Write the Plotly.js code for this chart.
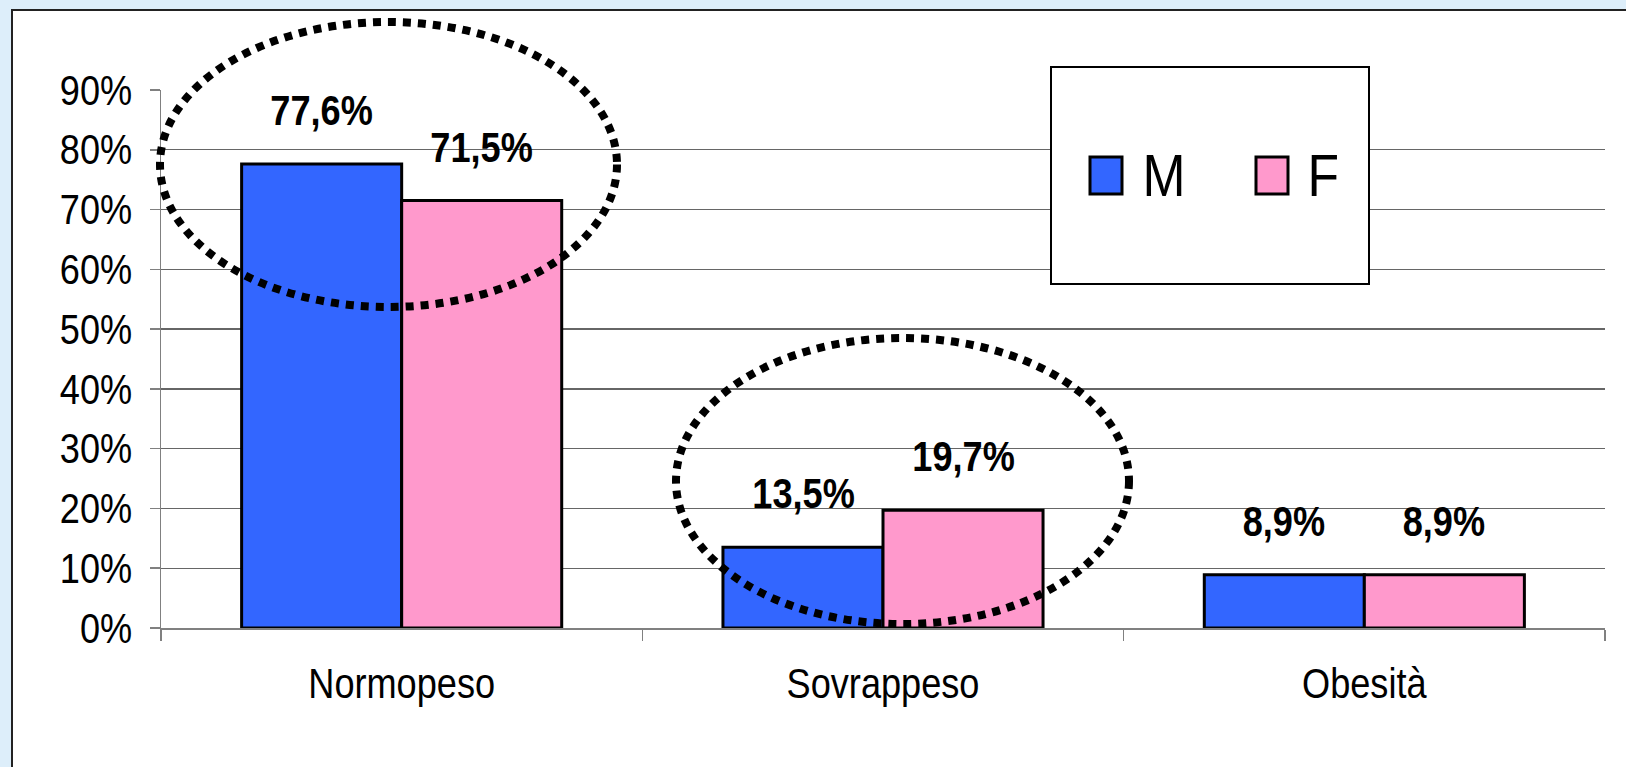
<!DOCTYPE html>
<html>
<head>
<meta charset="utf-8">
<script src="https://cdn.plot.ly/plotly-3.0.1.min.js"></script>
<style>
  html, body { margin: 0; padding: 0; background: #DDEEFA; }
  #chart { width: 1626px; height: 767px; }
</style>
</head>
<body>
<div id="chart"></div>
<script>
// Stato ponderale per sesso
const categorie = ['Normopeso', 'Sovrappeso', 'Obesità'];
const maschi = [0.776, 0.135, 0.089];
const femmine = [0.715, 0.197, 0.089];
const nomiSerie = ['M', 'F'];
const coloriSerie = ['#3366FF', '#FF99CC'];

const FONT = '"Liberation Sans", Arial, sans-serif';
const NARROW = 0.86; // horizontal squeeze for a narrow Arial look

// plot area in pixels
const W = 1626, H = 767;
const L = 161, R = 1605, T = 90, B = 628;
const px = p => (p - L) / (R - L);
const py = p => (B - p) / (B - T);

const fmt = v => (v * 100).toFixed(1).replace('.', ',') + '%';

const serie = [maschi, femmine];
const traces = serie.map((vals, i) => ({
  type: 'bar',
  name: nomiSerie[i],
  x: categorie,
  y: vals,
  marker: { color: coloriSerie[i], line: { color: '#000', width: 3 } },
  showlegend: false,
  hoverinfo: 'skip'
}));

// value labels above each bar
const annotations = [];
serie.forEach((vals, i) => {
  vals.forEach((v, j) => {
    annotations.push({
      x: categorie[j], y: v, xref: 'x', yref: 'y',
      text: fmt(v), showarrow: false,
      xanchor: 'center', yanchor: 'bottom',
      xshift: i === 0 ? -80 : 80, yshift: 28,
      font: { family: FONT, size: 42, color: '#000', weight: 'bold' }
    });
  });
});

// legend entries
const legendSwatches = [
  { x0: 1090, x1: 1122, tx: 1137 },
  { x0: 1256, x1: 1288, tx: 1303 }
];
const dotted = { color: '#000', width: 8, dash: '8px,7px' };
const shapes = [
  // chart frame
  { type: 'rect', xref: 'paper', yref: 'paper', layer: 'below',
    x0: px(12), x1: px(1660), y0: py(800), y1: py(10),
    fillcolor: '#FFFFFF', line: { color: '#222', width: 2 } },
  // legend box
  { type: 'rect', xref: 'paper', yref: 'paper', layer: 'above',
    x0: px(1051), x1: px(1369), y0: py(284), y1: py(67),
    fillcolor: '#FFFFFF', line: { color: '#000', width: 2 } },
  // highlight ellipses
  { type: 'circle', xref: 'paper', yref: 'paper', layer: 'above',
    x0: px(160), x1: px(617), y0: py(307), y1: py(22),
    fillcolor: 'rgba(0,0,0,0)', line: dotted },
  { type: 'circle', xref: 'paper', yref: 'paper', layer: 'above',
    x0: px(676), x1: px(1129), y0: py(624), y1: py(338),
    fillcolor: 'rgba(0,0,0,0)', line: dotted }
];
legendSwatches.forEach((s, i) => {
  shapes.push({
    type: 'rect', xref: 'paper', yref: 'paper', layer: 'above',
    x0: px(s.x0), x1: px(s.x1), y0: py(194), y1: py(157),
    fillcolor: coloriSerie[i], line: { color: '#000', width: 3 }
  });
  annotations.push({
    xref: 'paper', yref: 'paper', x: px(s.tx), y: py(175),
    xanchor: 'left', yanchor: 'middle', showarrow: false,
    text: nomiSerie[i],
    font: { family: FONT, size: 60, color: '#000' }
  });
});

const layout = {
  width: W, height: H,
  margin: { l: L, r: W - R, t: T, b: H - B, pad: 0 },
  paper_bgcolor: '#DDEEFA',
  plot_bgcolor: 'rgba(0,0,0,0)',
  font: { family: FONT, color: '#000' },
  barmode: 'group',
  bargap: 0.335,
  bargroupgap: 0,
  showlegend: false,
  hovermode: false,
  xaxis: {
    type: 'category',
    tickson: 'boundaries',
    ticks: 'outside', ticklen: 11, tickwidth: 1.5, tickcolor: '#808080',
    showline: true, linecolor: '#808080', linewidth: 1.5,
    showgrid: false, zeroline: false,
    tickfont: { family: FONT, size: 42, color: '#000' },
    ticklabelstandoff: 18
  },
  yaxis: {
    range: [0, 0.9],
    dtick: 0.1, tick0: 0,
    tickformat: '.0%',
    ticks: 'outside', ticklen: 10, tickwidth: 1.5, tickcolor: '#808080',
    showline: true, linecolor: '#808080', linewidth: 1.5,
    showgrid: true, gridcolor: '#666666', gridwidth: 1.4,
    zeroline: false,
    tickfont: { family: FONT, size: 42, color: '#000' },
    ticklabelstandoff: 9
  },
  shapes: shapes,
  annotations: annotations
};

Plotly.newPlot('chart', traces, layout, { staticPlot: true, displayModeBar: false })
  .then(gd => {
    // squeeze every label horizontally around its own anchor
    gd.querySelectorAll('svg text').forEach(t => {
      const w = t.getComputedTextLength();
      if (w > 0) {
        t.setAttribute('textLength', (w * NARROW).toFixed(2));
        t.setAttribute('lengthAdjust', 'spacingAndGlyphs');
      }
    });
  });
</script>
</body>
</html>
